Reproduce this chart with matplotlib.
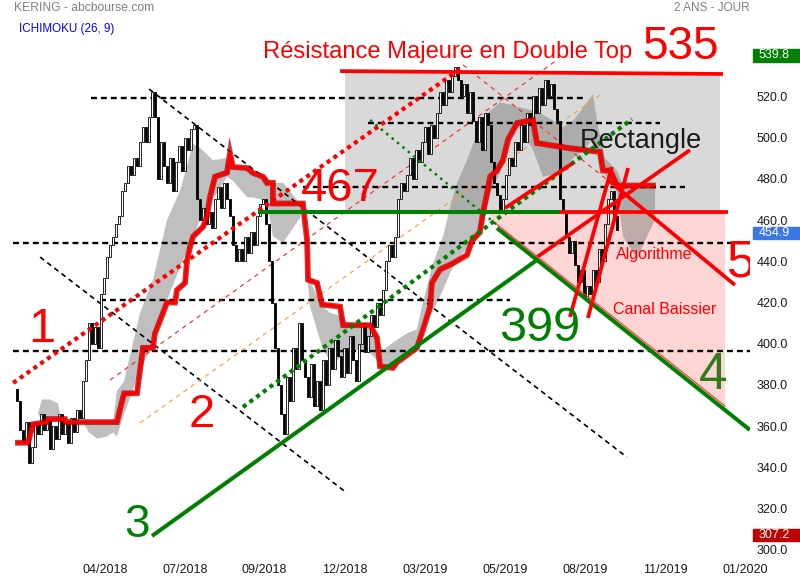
import numpy as np
import matplotlib
matplotlib.use("Agg")
import matplotlib.pyplot as plt
import matplotlib.patheffects as pe
import matplotlib.transforms as mtransforms
from matplotlib.patches import Rectangle, Polygon

plt.rcParams['font.family'] = ['Liberation Sans', 'DejaVu Sans']

# --- data (one candle = about two sessions) ---
first_open = 378
closes = [
    372, 358, 352, 362, 342, 350, 362, 356, 366, 358,
    364, 349, 360, 354, 366, 356, 362, 352, 364, 357,
    368, 364, 382, 392, 410, 400, 408, 398, 424, 432,
    442, 448, 452, 458, 462, 474, 478, 486, 482, 490,
    486, 498, 505, 498, 510, 522, 510, 480, 498, 486,
    478, 490, 474, 488, 496, 484, 500, 494, 504, 506,
    470, 460, 466, 458, 464, 456, 470, 476, 466, 478,
    470, 462, 448, 440, 446, 440, 452, 444, 454, 448,
    462, 468, 470, 458, 440, 420, 398, 380, 366, 356,
    384, 372, 398, 388, 410, 392, 384, 374, 390, 370,
    382, 368, 392, 380, 398, 388, 402, 394, 384, 398,
    386, 404, 392, 382, 400, 410, 396, 404, 414, 408,
    420, 414, 426, 440, 448, 442, 452, 470, 478, 474,
    482, 490, 480, 494, 488, 498, 505, 492, 506, 500,
    512, 522, 516, 528, 522, 530, 534, 528, 520, 526,
    512, 522, 508, 498, 510, 494, 512, 506, 488, 478,
    472, 464, 470, 482, 490, 486, 498, 494, 506, 498,
    512, 506, 520, 512, 524, 516, 528, 520, 526, 514,
    508, 470, 464, 452, 444, 450, 438, 430, 436, 422,
    428, 424, 436, 430, 446, 440, 458, 470, 474, 462,
    455,
]

# kijun (thick red step line)
kijun_x = [0.3, 3.7, 5.3, 10, 10.3, 16, 16.3, 33.3, 34.3, 35.7, 40, 41, 42, 45.3,
           46, 48.7, 50, 52.7, 53.3, 56, 56.7, 57.7, 58.7, 62, 63.3, 64.3, 66, 70,
           71, 72, 76.7, 78.7, 82, 83.3, 85.3, 85.3, 95.3, 96.7, 97, 100, 101.7,
           107.7, 108.7, 117.7, 120, 121, 125.3, 126.7, 133.3, 135.3, 137.7, 138.3,
           141, 145.3, 150, 151.7, 154.3, 155.3, 156.7, 157.7, 160, 162, 163.7,
           166.7, 172, 173.3, 183.3, 194.3, 195.3, 197.7, 200, 212]
kijun_y = [352, 352, 361, 362, 363.5, 363.5, 362, 362, 368, 376, 376, 387, 398, 398,
           405, 415, 420, 420, 426, 429.5, 440.6, 447, 452, 456.6, 461.5, 471, 481,
           483, 492.5, 485.7, 485.2, 482.8, 481, 478, 478, 468, 468, 450, 431, 429.5,
           419, 418, 409, 409, 403, 389, 388.3, 391, 398, 406.7, 418, 429.5, 436, 439,
           443, 450, 454, 463.4, 473, 481, 484, 489, 499, 507, 508.5, 497.3, 495, 493,
           484, 484, 476.7, 476.7]

# ichimoku cloud edges (nan = gap)
nan = np.nan
cloud_x = [7, 8.3, 11, 13.7, 14.3, nan,
           22, 24, 26.7, 30, 32, 33.3, 35.7, 41, 45.3, 50, 54.3, 58.7, 61, 65.3, 70,
           72, 76.7, 78.7, 83.3, 85.3, 88.7, 94.3, 95.3, nan,
           97, 97.7, 102, 104.3, 106.7, 111, 116.7, 120, 122, 126.7, 130, 133.3,
           135.3, 138.7, 142, 144.3, 146.7, 150, 153.3, 155.3, 157.7, 161, 164.3,
           166.7, 172, 175.3, 179, 182, 185.3, 189, 192, 193.7, 196, 200, 202, 206.7,
           210, 212.7]
cloud_top = [366, 373, 373, 371, 366, nan,
             362, 362, 362, 362, 362, 377, 382, 415, 431, 460, 474, 497, 495, 489, 490,
             486, 484, 483, 481, 478, 478, 468, 468, nan,
             431, 430, 418, 415, 414, 410, 408, 403, 397, 402, 405, 407,
             420, 439, 452, 466, 478, 489, 502, 508, 513, 517, 516,
             515, 513, 511, 508, 505, 508, 515, 521, 505, 490, 484, 477, 477,
             477, 477]
cloud_bot = [366, 363, 362, 363, 366, nan,
             362, 357, 354, 355, 357, 355, 366, 387, 400, 421, 437, 452, 460, 470, 481,
             479, 471, 471, 469, 452, 449, 461, 466, nan,
             428, 418, 397, 392, 392, 397, 397, 392, 389, 391, 397, 397,
             407, 416, 426, 434, 441, 446, 452, 457, 473, 483, 500,
             506, 494, 481, 482, 484, 490, 494, 500, 492, 482, 474, 452, 441,
             452, 460]

tick_pos = [29.3, 56, 82.3, 109.3, 136, 162.7, 189.3, 216, 242.7]
tick_labels = ['04/2018', '07/2018', '09/2018', '12/2018', '03/2019',
               '05/2019', '08/2019', '11/2019', '01/2020']
price_ticks = [300, 320, 340, 360, 380, 400, 420, 440, 460, 480, 500, 520]

# drawn annotations: (x0, y0, x1, y1)
black_hlines = [(24.7, 519, 188.7, 519), (117, 507, 214.3, 507), (95.3, 476, 222.7, 476),
                (-1.3, 449, 244.3, 449), (27.7, 421, 164.3, 421), (-1.3, 396.5, 244.3, 396.5)]
black_diag = [(44, 523.5, 203.3, 345), (7.7, 442, 110, 327.6)]
red_thin = [(31, 382.4, 180, 537.6), (148.7, 535.2, 201, 474.5)]
orange_thin = [(41, 361.6, 194.3, 520.6)]
red_dotted = [(-1.3, 381, 148.7, 534.2)]
green_dotted = [(75.3, 369.3, 205, 508.9)]
green_small_dots = [(117.7, 508.5, 160, 457.6)]
green_solid = [(45, 306.8, 173.3, 440.6), (160, 456.1, 244.3, 358.2), (80.3, 464, 181, 464)]
red_solid = [(107.7, 532.2, 235.3, 530.8), (181, 464, 237, 464), (173.3, 442, 224.3, 493.9),
             (162.7, 465.8, 185.3, 487.6), (184.3, 413, 198.3, 485.7),
             (190.3, 412.5, 203.7, 485.2), (197, 479.4, 239.3, 428.5)]
rect_zone = (109.3, 464, 234.3, 531.3)
pink_zone = [(156.7, 464), (236, 464), (236, 369), (160, 457)]

# price badges: value shown, centre of the box, colour
badge_vals = [539.8, 454.9, 307.2]
badge_pos = [539.8, 453.6, 307.2]
badge_cols = ['#008000', '#3a78e8', '#c00000']

fig = plt.figure(figsize=(8, 5.8), dpi=100)
ax = fig.add_axes([0, 20 / 580, 750 / 800, 560 / 580])
ax.set_xlim(-5.67, 244.33)
ax.set_ylim(295.15, 566.67)
for s in ax.spines.values():
    s.set_visible(False)

x0, y0, x1, y1 = rect_zone
ax.add_patch(Rectangle((x0, y0), x1 - x0, y1 - y0, color='#d9d9d9', lw=0, zorder=0))
ax.add_patch(Polygon(pink_zone, closed=True, facecolor='#ffd6d6', edgecolor='none', zorder=0.5))
ax.plot([p[0] for p in pink_zone[2:]], [p[1] + 0.8 for p in pink_zone[2:]],
        color='#ff3030', lw=0.8, zorder=6.5)

ax.fill_between(cloud_x, cloud_bot, cloud_top, color='#808080', alpha=0.5, lw=0, zorder=1)

for a, b, c, d in black_hlines:
    ax.plot([a, c], [b, d], color='black', lw=1.7, ls=(0, (2.5, 1.7)), zorder=2)
for a, b, c, d in black_diag:
    ax.plot([a, c], [b, d], color='black', lw=1.2, ls=(0, (3, 2.4)), zorder=2)
for a, b, c, d in red_thin:
    ax.plot([a, c], [b, d], color='#ff2020', lw=0.8, ls=(0, (4, 4)), zorder=2)
for a, b, c, d in orange_thin:
    ax.plot([a, c], [b, d], color='#ff9933', lw=0.8, ls=(0, (4, 4)), zorder=2)

# candles
closes = np.array(closes, float)
opens = np.r_[first_open, closes[:-1]]
idx = np.arange(len(closes))
up = closes >= opens
ax.bar(idx[up], closes[up] - opens[up], bottom=opens[up], width=0.85,
       color='white', edgecolor='black', linewidth=0.6, zorder=3)
ax.bar(idx[~up], opens[~up] - closes[~up], bottom=closes[~up], width=0.85,
       color='black', edgecolor='black', linewidth=0.6, zorder=3)

ax.plot(kijun_x, kijun_y, color='#ff0000', lw=2.4, zorder=4, solid_joinstyle='miter',
        path_effects=[pe.Stroke(linewidth=4.2, foreground='#b00000', alpha=0.75), pe.Normal()])

for a, b, c, d in red_dotted:
    ax.plot([a, c], [b, d], color='#ff0000', lw=3, ls=(0, (1, 1)), zorder=5)
for a, b, c, d in green_dotted:
    ax.plot([a, c], [b, d], color='#008000', lw=3, ls=(0, (1, 1)), zorder=5)
for a, b, c, d in green_small_dots:
    ax.plot([a, c], [b, d], color='#008000', lw=1.8, ls=(0, (1, 1.8)), zorder=5)
for a, b, c, d in green_solid:
    ax.plot([a, c], [b, d], color='#008000', lw=2.9, solid_capstyle='butt', zorder=6)
for a, b, c, d in red_solid:
    ax.plot([a, c], [b, d], color='#ff0000', lw=2.7, solid_capstyle='butt', zorder=6)

# labels on the chart
ax.text(82, 541.5, 'Résistance Majeure en Double Top', color='#ff0000', fontsize=17.1,
        ha='left', va='center', zorder=7)
ax.text(221.3, 544, '535', color='#ff0000', fontsize=33, ha='center', va='center', zorder=7)
ax.text(107.7, 475, '467', color='#ff0000', fontsize=34, ha='center', va='center', zorder=7)
ax.text(208, 498.3, 'Rectangle', color='#1a1a1a', fontsize=19.5, ha='center', va='center', zorder=7)
ax.text(8.3, 406.7, '1', color='#ff0000', fontsize=35, ha='center', va='center', zorder=7)
ax.text(61.7, 365.5, '2', color='#ff0000', fontsize=34, ha='center', va='center', zorder=7)
ax.text(40, 312, '3', color='#008000', fontsize=33, ha='center', va='center', zorder=7)
ax.text(232, 384.4, '4', color='#337a1a', fontsize=37, ha='center', va='center', zorder=7)
ax.text(241.3, 439, '5', color='#ff0000', fontsize=37, ha='center', va='center', zorder=7,
        clip_on=True)
ax.text(174.3, 407.6, '399', color='#008000', fontsize=35, ha='center', va='center', zorder=7)
ax.text(212.3, 443.5, 'Algorithme', color='#ff0000', fontsize=11.5, ha='center', va='center', zorder=7)
ax.text(216, 416.4, 'Canal Baissier', color='#ff0000', fontsize=11.5, ha='center', va='center', zorder=7)

# axes
ax.set_xticks(tick_pos)
ax.set_xticklabels(tick_labels, fontsize=9, color='#1a1a1a')
ax.yaxis.tick_right()
ax.set_yticks(price_ticks)
ax.set_yticklabels([f'{v:.1f}' for v in price_ticks], fontsize=9, color='#1a1a1a')
ax.tick_params(axis='x', length=0, pad=3)
ax.tick_params(axis='y', length=0, pad=5)

# price badges on the right
trans = mtransforms.blended_transform_factory(ax.transAxes, ax.transData)
for val, pos, col in zip(badge_vals, badge_pos, badge_cols):
    ax.add_patch(Rectangle((1.004, pos - 3.0), 0.07, 6.0, transform=trans, color=col,
                           clip_on=False, zorder=8))
    ax.text(1.011, pos, f'{val:.1f}', transform=trans, color='white', fontsize=9,
            ha='left', va='center', clip_on=False, zorder=9)

fig.text(14 / 800, 1 - 8 / 580, 'KERING - abcbourse.com', color='#808080', fontsize=8.7,
         ha='left', va='center')
fig.text(19 / 800, 1 - 29 / 580, 'ICHIMOKU (26, 9)', color='#0000ff', fontsize=8.4,
         ha='left', va='center')
fig.text(750 / 800, 1 - 8 / 580, '2 ANS - JOUR', color='#808080', fontsize=8.5,
         ha='right', va='center')

fig.savefig('out.png', dpi=100)
